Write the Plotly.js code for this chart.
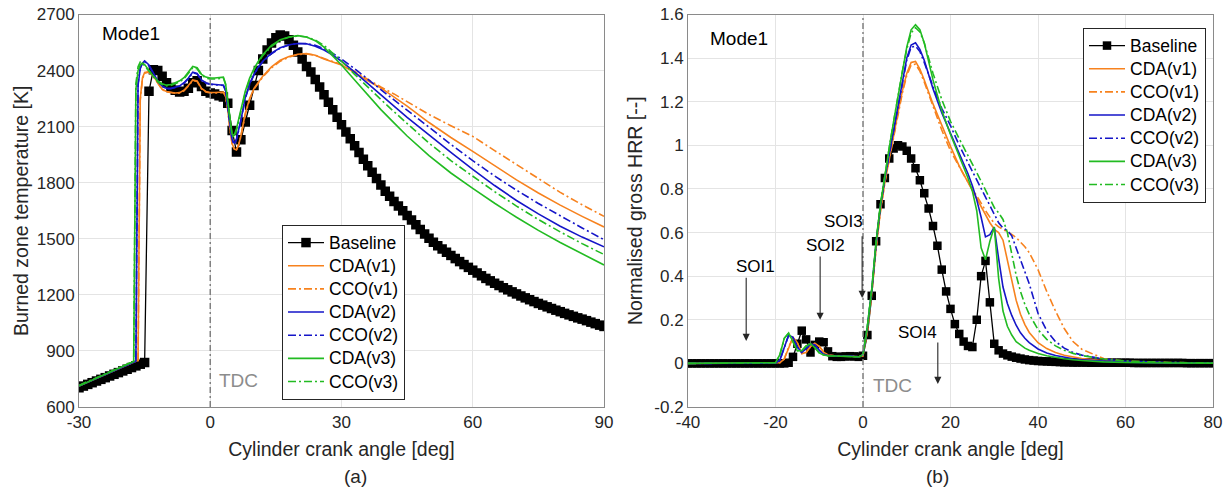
<!DOCTYPE html>
<html>
<head>
<meta charset="utf-8">
<script src="https://cdn.plot.ly/plotly-3.0.1.min.js"></script>
<style>html,body{margin:0;padding:0;background:#fff}#chart{width:1231px;height:487px}</style>
</head>
<body>
<div id="chart"></div>
<script>
// ---------- (a) Burned zone temperature ----------
var tempAngle = [-30,-29,-28,-27,-26,-25,-24,-23,-22,-21,-20,-19,-18,-17,-16,-15,-14,-13,-12,-11,-10,-9,-8,-7,-6,-5,-4,-3,-2,-1,
  0,1,2,3,4,5,6,7,8,9,10,11,12,13,14,15,16,17,18,19,20,21,22,23,24,25,26,27,28,29,30,31,32,33,34,35,36,37,38,39,40,
  41,42,43,44,45,46,47,48,49,50,51,52,53,54,55,56,57,58,59,60,61,62,63,64,65,66,67,68,69,70,71,72,73,74,75,76,77,78,79,80,
  81,82,83,84,85,86,87,88,89,90];
var tempBaseline = [703,712,721,730,739,748,757,766,775,784,793,802,811,820,829,838,2290,2405,2400,2370,2335,2310,2295,2285,2290,2305,2335,2345,2315,2290,
  2280,2275,2265,2258,2225,2080,1965,2030,2125,2215,2320,2400,2462,2510,2548,2575,2590,2585,2565,2535,2500,2462,2422,2392,2352,2312,2271,2230,2190,2150,2110,
  2072,2035,1998,1962,1926,1891,1856,1822,1788,1755,1727,1700,1675,1650,1625,1600,1575,1550,1526,1503,1482,1463,1445,1428,1411,1394,1378,1362,1347,1332,
  1317,1302,1288,1275,1262,1250,1238,1227,1216,1205,1194,1184,1174,1164,1154,1145,1136,1127,1118,1110,1101,1093,1085,1077,1070,1062,1054,1046,1038,1031];

var tempLineAngle = [-30,-18,-17.5,-17,-16.5,-16,-15.5,-15,-14,-13,-12,-11,-10,-9,-8,-7,-6,-5,-4,-3,-2,-1,0,1,2,3,3.5,4,4.5,5,5.5,6,6.5,7,8,9,10,11,12,14,16,18,20,22,24,26,28,30,33,36,39,42,45,50,55,60,65,70,75,80,85,90];
var tempCDA1 = [712,838,843,845,848,2250,2360,2390,2395,2370,2335,2300,2288,2282,2280,2282,2295,2320,2350,2345,2305,2288,2283,2283,2285,2285,2265,2195,2090,2010,1980,1975,2005,2050,2170,2250,2305,2340,2370,2420,2455,2475,2487,2491,2482,2462,2445,2430,2390,2345,2307,2260,2210,2122,2042,1968,1890,1815,1745,1680,1620,1563];
var tempCCO1 = [714,839,844,846,849,2240,2355,2385,2392,2368,2333,2298,2286,2280,2278,2280,2292,2317,2347,2342,2302,2285,2280,2280,2282,2282,2262,2190,2085,2005,1978,1975,2003,2048,2165,2245,2300,2335,2365,2415,2450,2472,2485,2489,2482,2465,2450,2432,2395,2352,2312,2275,2235,2165,2105,2048,1972,1898,1822,1748,1682,1620];
var tempCDA2 = [712,838,843,845,2320,2410,2440,2452,2430,2385,2345,2318,2305,2305,2310,2318,2335,2360,2392,2385,2350,2335,2328,2325,2323,2322,2295,2210,2100,2030,2010,2035,2085,2135,2255,2330,2380,2420,2450,2493,2522,2538,2545,2543,2530,2510,2483,2450,2392,2330,2271,2210,2150,2055,1962,1872,1785,1705,1633,1567,1509,1457];
var tempCCO2 = [714,839,844,846,2330,2415,2440,2448,2425,2380,2342,2315,2303,2303,2308,2316,2332,2357,2388,2382,2347,2332,2326,2323,2321,2320,2292,2205,2095,2025,2005,2030,2080,2130,2250,2325,2377,2417,2447,2490,2520,2537,2545,2545,2535,2518,2492,2462,2410,2352,2298,2243,2190,2097,2005,1918,1836,1760,1689,1622,1558,1495];
var tempCDA3 = [712,838,843,2300,2400,2430,2440,2432,2400,2370,2345,2330,2322,2325,2335,2345,2362,2390,2422,2415,2380,2365,2360,2360,2362,2365,2330,2240,2130,2060,2055,2090,2140,2185,2290,2360,2410,2450,2485,2535,2565,2580,2587,2580,2560,2525,2480,2430,2350,2270,2191,2120,2050,1945,1852,1770,1690,1615,1545,1480,1418,1360];
var tempCCO3 = [716,840,845,2330,2420,2445,2440,2425,2395,2365,2340,2325,2318,2320,2330,2340,2356,2385,2415,2410,2375,2360,2355,2355,2357,2360,2325,2230,2120,2050,2045,2080,2130,2175,2280,2352,2405,2445,2480,2530,2562,2578,2585,2580,2563,2535,2495,2450,2380,2310,2245,2180,2115,2012,1918,1834,1752,1675,1603,1537,1474,1416];
var tempXTicks = [-30,0,30,60,90];
var tempXTickText = ["-30","0","30","60","90"];
var tempYTicks = [600,900,1200,1500,1800,2100,2400,2700];

// ---------- (b) Normalised gross HRR ----------
var hrrAngle = [-40,-39,-38,-37,-36,-35,-34,-33,-32,-31,-30,-29,-28,-27,-26,-25,-24,-23,-22,-21,-20,-19,-18,-17,-16,-15,-14,-13,-12,-11,-10,-9,-8,-7,-6,-5,-4,-3,-2,-1,
  0,1,2,3,4,5,6,7,8,9,10,11,12,13,14,15,16,17,18,19,20,21,22,23,24,25,26,27,28,29,30,31,32,33,34,35,36,37,38,39,40,
  41,42,43,44,45,46,47,48,49,50,51,52,53,54,55,56,57,58,59,60,61,62,63,64,65,66,67,68,69,70,71,72,73,74,75,76,77,78,79,80];
var hrrBaseline = [0,0,0,0,0,0,0,0,0,0,0,0,0,0,0,0,0,0,0,0,0,0,0,0.003,0.03,0.09,0.15,0.11,0.05,0.085,0.1,0.097,0.055,0.033,0.03,0.03,0.032,0.033,0.032,0.03,
  0.035,0.13,0.31,0.56,0.73,0.85,0.94,0.985,1.0,0.995,0.975,0.94,0.895,0.84,0.78,0.71,0.63,0.54,0.43,0.33,0.25,0.18,0.135,0.1,0.08,0.075,0.2,0.4,0.47,0.28,0.09,
  0.06,0.045,0.037,0.031,0.026,0.022,0.018,0.015,0.013,0.011,0.01,0.009,0.008,0.007,0.006,0.005,0.005,0.004,0.004,0.004,0.004,0.003,0.003,0.003,0.003,0.003,0.003,0.003,0.003,0.003,
  0.003,0.002,0.002,0.002,0.002,0.002,0.002,0.002,0.002,0.002,0.002,0.002,0.002,0.001,0.001,0.001,0.001,0.001,0.001,0.001];

var hrrLineAngle = [-40,-20,-19,-18,-17,-16,-15,-14,-13,-12,-11,-10,-9,-8,-6,-3,-1,0,1,2,3,4,5,6,7,8,9,10,11,12,13,14,16,18,20,22,24,25,26,27,28,29,30,31,32,33,34,35,36,37,38,40,42,44,46,48,50,55,60,70,80];
var hrrCDA1 = [0,0,0.003,0.02,0.075,0.12,0.095,0.045,0.05,0.078,0.092,0.078,0.052,0.038,0.034,0.034,0.03,0.035,0.15,0.32,0.53,0.7,0.83,0.94,1.05,1.15,1.25,1.33,1.38,1.385,1.35,1.3,1.19,1.09,0.995,0.905,0.83,0.795,0.76,0.72,0.68,0.645,0.615,0.6,0.565,0.47,0.37,0.29,0.225,0.178,0.142,0.095,0.068,0.05,0.037,0.028,0.022,0.012,0.007,0.003,0.001];
var hrrCCO1 = [0,0,0.003,0.02,0.075,0.118,0.095,0.045,0.05,0.077,0.09,0.078,0.052,0.038,0.034,0.034,0.03,0.035,0.15,0.32,0.53,0.7,0.83,0.935,1.04,1.14,1.24,1.32,1.368,1.372,1.34,1.29,1.175,1.07,0.975,0.9,0.83,0.8,0.77,0.735,0.7,0.668,0.642,0.626,0.615,0.605,0.592,0.577,0.558,0.535,0.508,0.43,0.33,0.24,0.16,0.1,0.065,0.022,0.01,0.004,0.002];
var hrrCDA2 = [0,0.001,0.015,0.075,0.13,0.12,0.075,0.05,0.068,0.088,0.085,0.06,0.042,0.036,0.034,0.034,0.03,0.04,0.165,0.335,0.55,0.72,0.85,0.96,1.08,1.19,1.3,1.4,1.46,1.47,1.44,1.39,1.26,1.15,1.055,0.965,0.87,0.815,0.75,0.67,0.58,0.59,0.625,0.48,0.35,0.275,0.22,0.175,0.14,0.115,0.095,0.066,0.048,0.036,0.027,0.021,0.016,0.009,0.005,0.002,0.001];
var hrrCCO2 = [0,0.001,0.015,0.075,0.128,0.118,0.075,0.05,0.068,0.087,0.084,0.06,0.042,0.036,0.034,0.034,0.03,0.04,0.165,0.335,0.55,0.72,0.85,0.96,1.075,1.185,1.29,1.39,1.45,1.455,1.43,1.38,1.27,1.17,1.09,1.0,0.92,0.88,0.84,0.8,0.76,0.72,0.68,0.645,0.62,0.61,0.585,0.53,0.47,0.425,0.365,0.23,0.15,0.1,0.07,0.05,0.038,0.02,0.01,0.004,0.002];
var hrrCDA3 = [0,0.003,0.04,0.115,0.14,0.1,0.058,0.058,0.08,0.09,0.072,0.048,0.038,0.035,0.034,0.034,0.03,0.04,0.17,0.34,0.56,0.73,0.87,0.99,1.11,1.23,1.35,1.45,1.53,1.553,1.53,1.47,1.3,1.16,1.05,0.95,0.85,0.79,0.7,0.53,0.475,0.56,0.625,0.39,0.24,0.17,0.13,0.1,0.085,0.07,0.06,0.045,0.035,0.027,0.021,0.017,0.013,0.007,0.004,0.002,0.001];
var hrrCCO3 = [0,0.003,0.04,0.115,0.138,0.1,0.058,0.058,0.08,0.088,0.072,0.048,0.038,0.035,0.034,0.034,0.03,0.04,0.17,0.34,0.56,0.73,0.87,0.99,1.11,1.23,1.34,1.44,1.515,1.54,1.52,1.47,1.33,1.21,1.11,1.03,0.955,0.915,0.875,0.835,0.795,0.755,0.715,0.69,0.66,0.6,0.5,0.405,0.33,0.27,0.225,0.155,0.11,0.08,0.06,0.046,0.036,0.02,0.011,0.004,0.002];
var hrrXTicks = [-40,-20,0,20,40,60,80];
var hrrXTickText = ["-40","-20","0","20","40","60","80"];
var hrrYTicks = [-0.2,0,0.2,0.4,0.6,0.8,1,1.2,1.4,1.6];
var hrrYTickText = ["-0.2","0","0.2","0.4","0.6","0.8","1","1.2","1.4","1.6"];

var seriesNames = ["Baseline","CDA(v1)","CCO(v1)","CDA(v2)","CCO(v2)","CDA(v3)","CCO(v3)"];
var seriesColors = ["#000000","#F7821E","#F7821E","#1515C8","#1515C8","#22BB22","#22BB22"];
var seriesDash = ["solid","solid","dashdot","solid","dashdot","solid","dashdot"];

// ---------- build ----------
var FONT = "Liberation Sans, Arial, Helvetica, sans-serif";
var TXT = "#262626";
var traces = [];
function legName(s) { return '<span style="font-size:17.5px">' + s + '</span>'; }
function addSet(xBase, yBase, xLine, ys, xa, ya, leg, msize) {
  traces.push({x: xBase, y: yBase, xaxis: xa, yaxis: ya, name: legName(seriesNames[0]), legend: leg,
    type: "scatter", mode: "lines+markers",
    line: {color: "#000000", width: 1.3},
    marker: {symbol: "square", size: msize, color: "#000000"}});
  for (var i = 0; i < ys.length; i++) {
    traces.push({x: xLine, y: ys[i], xaxis: xa, yaxis: ya, name: legName(seriesNames[i+1]), legend: leg,
      type: "scatter", mode: "lines",
      line: {color: seriesColors[i+1], width: 1.6, dash: seriesDash[i+1] === "dashdot" ? "8px,3px,2px,3px" : "solid"}});
  }
}
addSet(tempAngle, tempBaseline, tempLineAngle, [tempCDA1,tempCCO1,tempCDA2,tempCCO2,tempCDA3,tempCCO3], "x", "y", "legend", 9.5);
addSet(hrrAngle, hrrBaseline, hrrLineAngle, [hrrCDA1,hrrCCO1,hrrCDA2,hrrCCO2,hrrCDA3,hrrCCO3], "x2", "y2", "legend2", 8.5);

var W = 1231, H = 487;
var xDom1 = [79/W, 604/W], xDom2 = [688/W, 1213/W], yDom = [(H-407)/H, (H-14.5)/H];

function axisBase(extra) {
  var a = {showgrid: true, gridcolor: "#e4e4e4", gridwidth: 1, showline: true, linecolor: "#8a8a8a", linewidth: 1,
    mirror: true, zeroline: false, ticks: "", tickfont: {family: FONT, size: 17, color: TXT}};
  for (var k in extra) a[k] = extra[k];
  return a;
}

function legendAt(x, y, fs) {
  return {bgcolor: "#ffffff", bordercolor: "#262626", borderwidth: 1,
    font: {family: FONT, size: fs, color: "#000"}, xanchor: "left", yanchor: "top", itemwidth: 36, tracegroupgap: 0,
    x: x, y: y};
}

var annFont = {family: FONT, size: 19, color: "#000"};
var soiFont = {family: FONT, size: 17, color: "#000"};
var tdcFont = {family: FONT, size: 19, color: "#8c8c8c"};
function arrow(xr, yr, x0, y0, x1, y1) {
  return {xref: xr, yref: yr, axref: xr, ayref: yr, x: x1, y: y1, ax: x0, ay: y0, text: "",
    showarrow: true, arrowhead: 2, arrowsize: 1.3, arrowwidth: 1.1, arrowcolor: "#262626"};
}

var layout = {
  width: W, height: H, margin: {l: 0, r: 0, t: 0, b: 0},
  paper_bgcolor: "#ffffff", plot_bgcolor: "#ffffff",
  font: {family: FONT, color: TXT},
  xaxis: axisBase({domain: xDom1, anchor: "y", range: [-30, 90], tickvals: tempXTicks, ticktext: tempXTickText,
    title: {text: "Cylinder crank angle [deg]", font: {family: FONT, size: 19.5, color: TXT}, standoff: 10}}),
  yaxis: axisBase({domain: yDom, anchor: "x", range: [600, 2700], tickvals: tempYTicks,
    title: {text: "Burned zone temperature [K]", font: {family: FONT, size: 19.5, color: TXT}, standoff: 2}}),
  xaxis2: axisBase({domain: xDom2, anchor: "y2", range: [-40, 80], tickvals: hrrXTicks, ticktext: hrrXTickText,
    title: {text: "Cylinder crank angle [deg]", font: {family: FONT, size: 19.5, color: TXT}, standoff: 10}}),
  yaxis2: axisBase({domain: yDom, anchor: "x2", range: [-0.2, 1.6], tickvals: hrrYTicks, ticktext: hrrYTickText,
    title: {text: "Normalised gross HRR [--]", font: {family: FONT, size: 19.5, color: TXT}, standoff: 6}}),
  legend: legendAt(282/W, 1 - 225/H, 15.5),
  legend2: legendAt(1083/W, 1 - 28/H, 15.5),
  shapes: [
    {type: "line", xref: "x", yref: "y domain", x0: 0, x1: 0, y0: 0, y1: 1, line: {color: "#808080", width: 1.5, dash: "6px,3px,2px,3px"}},
    {type: "line", xref: "x2", yref: "y2 domain", x0: 0, x1: 0, y0: 0, y1: 1, line: {color: "#808080", width: 1.5, dash: "6px,3px,2px,3px"}}
  ],
  annotations: [
    {xref: "x", yref: "y", x: -18.2, y: 2598, text: "Mode1", showarrow: false, font: annFont},
    {xref: "x", yref: "y", x: 6.5, y: 740, text: "TDC", showarrow: false, font: tdcFont},
    {xref: "x2", yref: "y2", x: -28.3, y: 1.49, text: "Mode1", showarrow: false, font: annFont},
    {xref: "x2", yref: "y2", x: 6.7, y: -0.1, text: "TDC", showarrow: false, font: tdcFont},
    {xref: "x2", yref: "y2", x: -24.5, y: 0.444, text: "SOI1", showarrow: false, font: soiFont},
    arrow("x2", "y2", -26.7, 0.40, -26.7, 0.103),
    {xref: "x2", yref: "y2", x: -8.5, y: 0.542, text: "SOI2", showarrow: false, font: soiFont},
    arrow("x2", "y2", -9.8, 0.497, -9.8, 0.2),
    {xref: "x2", yref: "y2", x: -4.5, y: 0.65, text: "SOI3", showarrow: false, font: soiFont},
    arrow("x2", "y2", -0.2, 0.59, -0.2, 0.3),
    {xref: "x2", yref: "y2", x: 12.5, y: 0.141, text: "SOI4", showarrow: false, font: soiFont},
    arrow("x2", "y2", 17.1, 0.103, 17.1, -0.094),
    {xref: "paper", yref: "paper", x: (xDom1[0]+xDom1[1])/2, y: 1 - 476/H, yanchor: "middle", text: "(a)", showarrow: false, font: {family: FONT, size: 19, color: TXT}},
    {xref: "paper", yref: "paper", x: (xDom2[0]+xDom2[1])/2, y: 1 - 476/H, yanchor: "middle", text: "(b)", showarrow: false, font: {family: FONT, size: 19, color: TXT}}
  ]
};

Plotly.newPlot("chart", traces, layout, {displayModeBar: false, staticPlot: true});
</script>
</body>
</html>
